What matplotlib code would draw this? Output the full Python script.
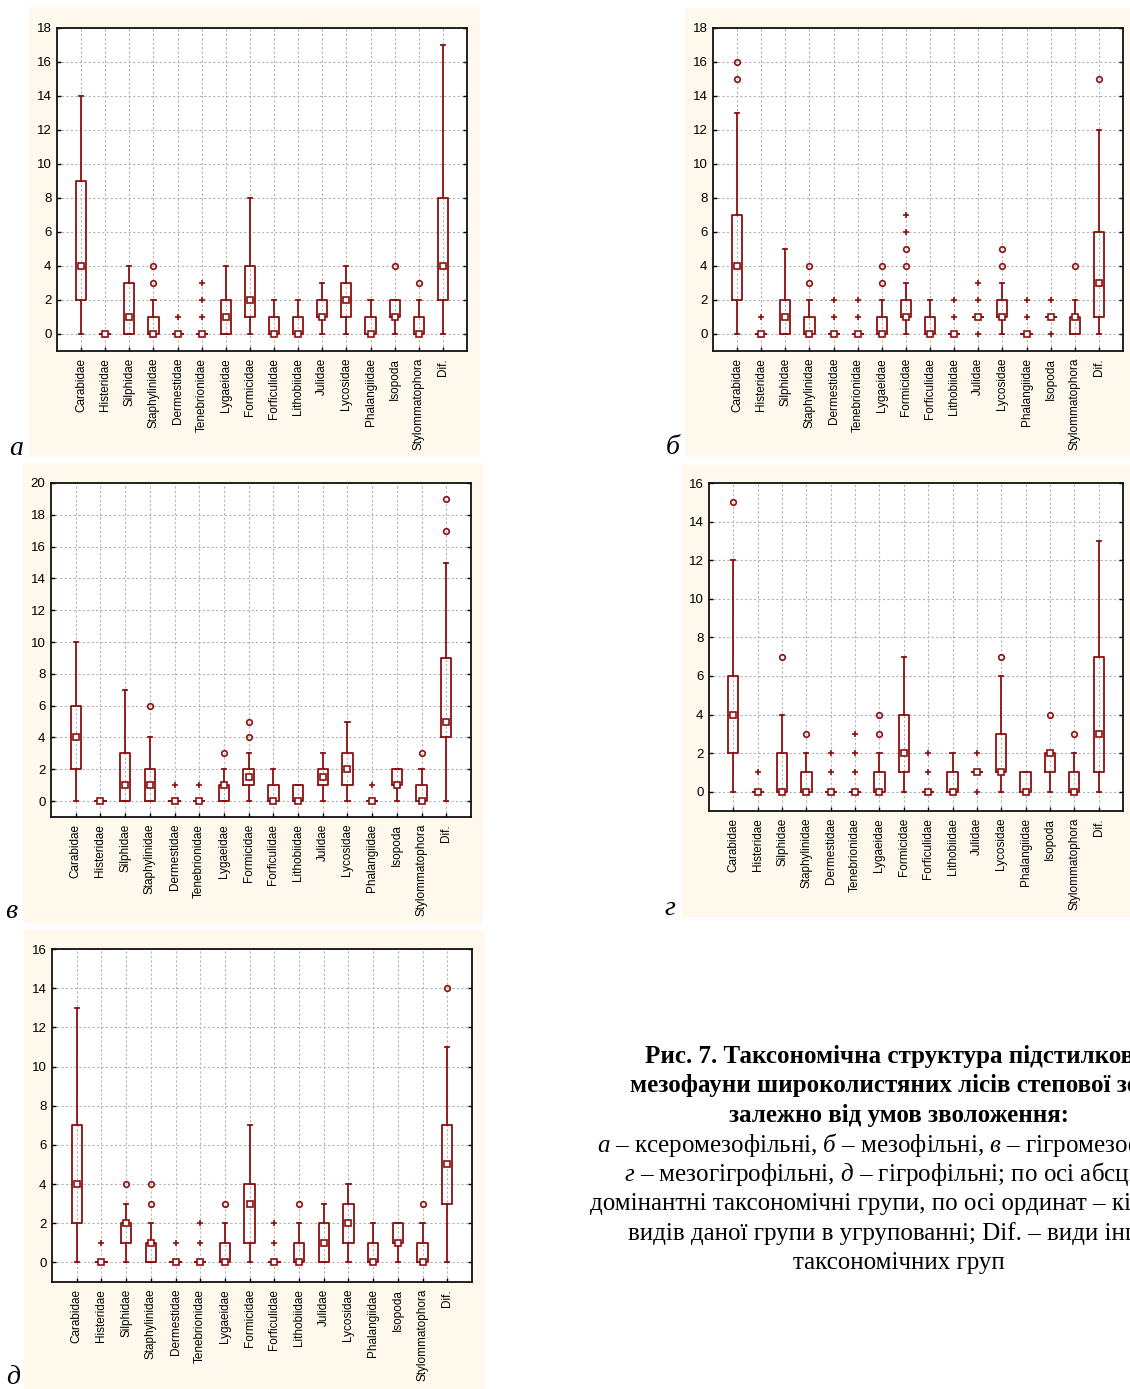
import matplotlib
matplotlib.use("Agg")
import matplotlib.pyplot as plt
from matplotlib.patches import Rectangle

plt.rcParams['font.family'] = ['Liberation Sans', 'DejaVu Sans']
plt.rcParams['mathtext.fontset'] = 'custom'
plt.rcParams['mathtext.rm'] = 'Liberation Serif'
plt.rcParams['mathtext.it'] = 'Liberation Serif:italic'

cats = ['Carabidae', 'Histeridae', 'Silphidae', 'Staphylinidae', 'Dermestidae',
        'Tenebrionidae', 'Lygaeidae', 'Formicidae', 'Forficulidae', 'Lithobiidae',
        'Julidae', 'Lycosidae', 'Phalangiidae', 'Isopoda', 'Stylommatophora', 'Dif.']

# (whisker low, q1, median, q3, whisker high) for each category
# а - ксеромезофільні
a_box = [(0, 2, 4, 9, 14), (0, 0, 0, 0, 0), (0, 0, 1, 3, 4), (0, 0, 0, 1, 2),
         (0, 0, 0, 0, 0), (0, 0, 0, 0, 0), (0, 0, 1, 2, 4), (0, 1, 2, 4, 8),
         (0, 0, 0, 1, 2), (0, 0, 0, 1, 2), (0, 1, 1, 2, 3), (0, 1, 2, 3, 4),
         (0, 0, 0, 1, 2), (0, 1, 1, 2, 2), (0, 0, 0, 1, 2), (0, 2, 4, 8, 17)]
a_out = {'Staphylinidae': [3, 4], 'Isopoda': [4], 'Stylommatophora': [3]}
a_ext = {'Dermestidae': [1], 'Tenebrionidae': [1, 2, 3]}

# б - мезофільні
b_box = [(0, 2, 4, 7, 13), (0, 0, 0, 0, 0), (0, 0, 1, 2, 5), (0, 0, 0, 1, 2),
         (0, 0, 0, 0, 0), (0, 0, 0, 0, 0), (0, 0, 0, 1, 2), (0, 1, 1, 2, 3),
         (0, 0, 0, 1, 2), (0, 0, 0, 0, 0), (1, 1, 1, 1, 1), (0, 1, 1, 2, 3),
         (0, 0, 0, 0, 0), (1, 1, 1, 1, 1), (0, 0, 1, 1, 2), (0, 1, 3, 6, 12)]
b_out = {'Carabidae': [15, 16], 'Staphylinidae': [3, 4], 'Lygaeidae': [3, 4],
         'Formicidae': [4, 5], 'Lycosidae': [4, 5], 'Stylommatophora': [4], 'Dif.': [15]}
b_ext = {'Histeridae': [1], 'Dermestidae': [1, 2], 'Tenebrionidae': [1, 2],
         'Formicidae': [6, 7], 'Lithobiidae': [1, 2], 'Julidae': [0, 2, 3],
         'Phalangiidae': [1, 2], 'Isopoda': [0, 2]}

# в - гігромезофільні
v_box = [(0, 2, 4, 6, 10), (0, 0, 0, 0, 0), (0, 0, 1, 3, 7), (0, 0, 1, 2, 4),
         (0, 0, 0, 0, 0), (0, 0, 0, 0, 0), (0, 0, 1, 1, 2), (0, 1, 1.5, 2, 3),
         (0, 0, 0, 1, 2), (0, 0, 0, 1, 1), (0, 1, 1.5, 2, 3), (0, 1, 2, 3, 5),
         (0, 0, 0, 0, 0), (0, 1, 1, 2, 2), (0, 0, 0, 1, 2), (0, 4, 5, 9, 15)]
v_out = {'Staphylinidae': [6], 'Lygaeidae': [3], 'Formicidae': [4, 5],
         'Stylommatophora': [3], 'Dif.': [17, 19]}
v_ext = {'Dermestidae': [1], 'Tenebrionidae': [1], 'Phalangiidae': [1]}

# г - мезогігрофільні
g_box = [(0, 2, 4, 6, 12), (0, 0, 0, 0, 0), (0, 0, 0, 2, 4), (0, 0, 0, 1, 2),
         (0, 0, 0, 0, 0), (0, 0, 0, 0, 0), (0, 0, 0, 1, 2), (0, 1, 2, 4, 7),
         (0, 0, 0, 0, 0), (0, 0, 0, 1, 2), (1, 1, 1, 1, 1), (0, 1, 1, 3, 6),
         (0, 0, 0, 1, 1), (0, 1, 2, 2, 2), (0, 0, 0, 1, 2), (0, 1, 3, 7, 13)]
g_out = {'Carabidae': [15], 'Silphidae': [7], 'Staphylinidae': [3], 'Lygaeidae': [3, 4],
         'Lycosidae': [7], 'Isopoda': [4], 'Stylommatophora': [3]}
g_ext = {'Histeridae': [1], 'Dermestidae': [1, 2], 'Tenebrionidae': [1, 2, 3],
         'Forficulidae': [1, 2], 'Julidae': [0, 2]}

# д - гігрофільні
d_box = [(0, 2, 4, 7, 13), (0, 0, 0, 0, 0), (0, 1, 2, 2, 3), (0, 0, 1, 1, 2),
         (0, 0, 0, 0, 0), (0, 0, 0, 0, 0), (0, 0, 0, 1, 2), (0, 1, 3, 4, 7),
         (0, 0, 0, 0, 0), (0, 0, 0, 1, 2), (0, 0, 1, 2, 3), (0, 1, 2, 3, 4),
         (0, 0, 0, 1, 2), (0, 1, 1, 2, 2), (0, 0, 0, 1, 2), (0, 3, 5, 7, 11)]
d_out = {'Silphidae': [4], 'Staphylinidae': [3, 4], 'Lygaeidae': [3],
         'Lithobiidae': [3], 'Stylommatophora': [3], 'Dif.': [14]}
d_ext = {'Histeridae': [1], 'Dermestidae': [1], 'Tenebrionidae': [1, 2],
         'Forficulidae': [1, 2]}

W, H = 1130, 1389
red = '#8c1010'
cream = '#fef9ec'

fig = plt.figure(figsize=(W / 100, H / 100), dpi=100)
fig.patch.set_facecolor('white')


def px(x0, y0, x1, y1):
    return [x0 / W, 1 - y1 / H, (x1 - x0) / W, (y1 - y0) / H]


def draw_panel(axrect, bgrect, label, labelpos, box, out, ext, ymax):
    r = px(*bgrect)
    fig.patches.append(Rectangle((r[0], r[1]), r[2], r[3], transform=fig.transFigure,
                                 facecolor=cream, edgecolor='none', zorder=-5))
    ax = fig.add_axes(px(*axrect))
    ax.set_facecolor('white')
    stats = []
    for c, (lo, q1, med, q3, hi) in zip(cats, box):
        stats.append(dict(whislo=lo, q1=q1, med=med, q3=q3, whishi=hi,
                          fliers=out.get(c, [])))
    pos = list(range(1, len(cats) + 1))
    ax.bxp(stats, positions=pos, widths=0.42, capwidths=0.17, manage_ticks=False,
           boxprops=dict(color=red, linewidth=1.3),
           whiskerprops=dict(color=red, linewidth=1.3),
           capprops=dict(color=red, linewidth=1.3),
           medianprops=dict(linestyle='none'),
           flierprops=dict(marker='o', markersize=4, markerfacecolor='none',
                           markeredgecolor=red, markeredgewidth=1.2),
           zorder=3)
    meds = [b[2] for b in box]
    ax.plot(pos, meds, 's', markersize=4.3, markerfacecolor='white',
            markeredgecolor=red, markeredgewidth=1.2, linestyle='none', zorder=4)
    for c, vals in ext.items():
        i = cats.index(c) + 1
        ax.plot([i] * len(vals), vals, '+', markersize=4, color=red,
                markeredgewidth=1.2, zorder=4)
    ax.set_xlim(0, 17)
    ax.set_ylim(-1, ymax)
    ax.set_yticks(range(0, ymax + 1, 2))
    ax.set_xticks(pos)
    ax.set_xticklabels(cats, rotation=90, fontsize=8.5)
    ax.tick_params(axis='y', labelsize=9.5, direction='in', length=3, right=True,
                   pad=4, width=1)
    ax.tick_params(axis='x', direction='in', length=3, pad=5, width=1)
    ax.grid(True, color='#b4b4b4', linestyle=(0, (2, 2)), linewidth=0.8, zorder=0)
    ax.set_axisbelow(True)
    for s in ax.spines.values():
        s.set_linewidth(1.3)
        s.set_color('#111111')
    fig.text(labelpos[0] / W, 1 - labelpos[1] / H, label, fontsize=20,
             family='Liberation Serif', style='italic', ha='left', va='baseline')
    return ax


draw_panel((57, 28, 467, 351), (29, 7, 480, 457), 'а', (9, 455), a_box, a_out, a_ext, 18)
draw_panel((713, 28, 1123, 351), (685, 8, 1130, 457), 'б', (666, 454), b_box, b_out, b_ext, 18)
draw_panel((51, 483, 471, 817), (23, 463, 483, 923), 'в', (5, 918), v_box, v_out, v_ext, 20)
draw_panel((709, 483, 1123, 811), (682, 465, 1130, 917), 'г', (664, 915), g_box, g_out, g_ext, 16)
draw_panel((52, 949, 472, 1282), (24, 930, 485, 1389), 'д', (6, 1384), d_box, d_out, d_ext, 16)

# caption (runs past the right edge like in the original)
cap_bold = ['Рис. 7. Таксономічна структура підстилкової',
            'мезофауни широколистяних лісів степової зони',
            'залежно від умов зволоження:']
cap_norm = ['$\\mathit{а}$ – ксеромезофільні, $\\mathit{б}$ – мезофільні, $\\mathit{в}$ – гігромезофільні,',
            '$\\mathit{г}$ – мезогігрофільні, $\\mathit{д}$ – гігрофільні; по осі абсцис –',
            'домінантні таксономічні групи, по осі ординат – кількість',
            'видів даної групи в угрупованні; Dif. – види інших',
            'таксономічних груп']
cx = 899
y0, dy = 1056, 29.6

for i, t in enumerate(cap_bold + cap_norm):
    fig.text(cx / W, 1 - (y0 + i * dy) / H, t, fontsize=18,
             fontweight='bold' if i < 3 else 'normal',
             family='Liberation Serif', ha='center', va='center')

fig.savefig('out.png', dpi=100)
